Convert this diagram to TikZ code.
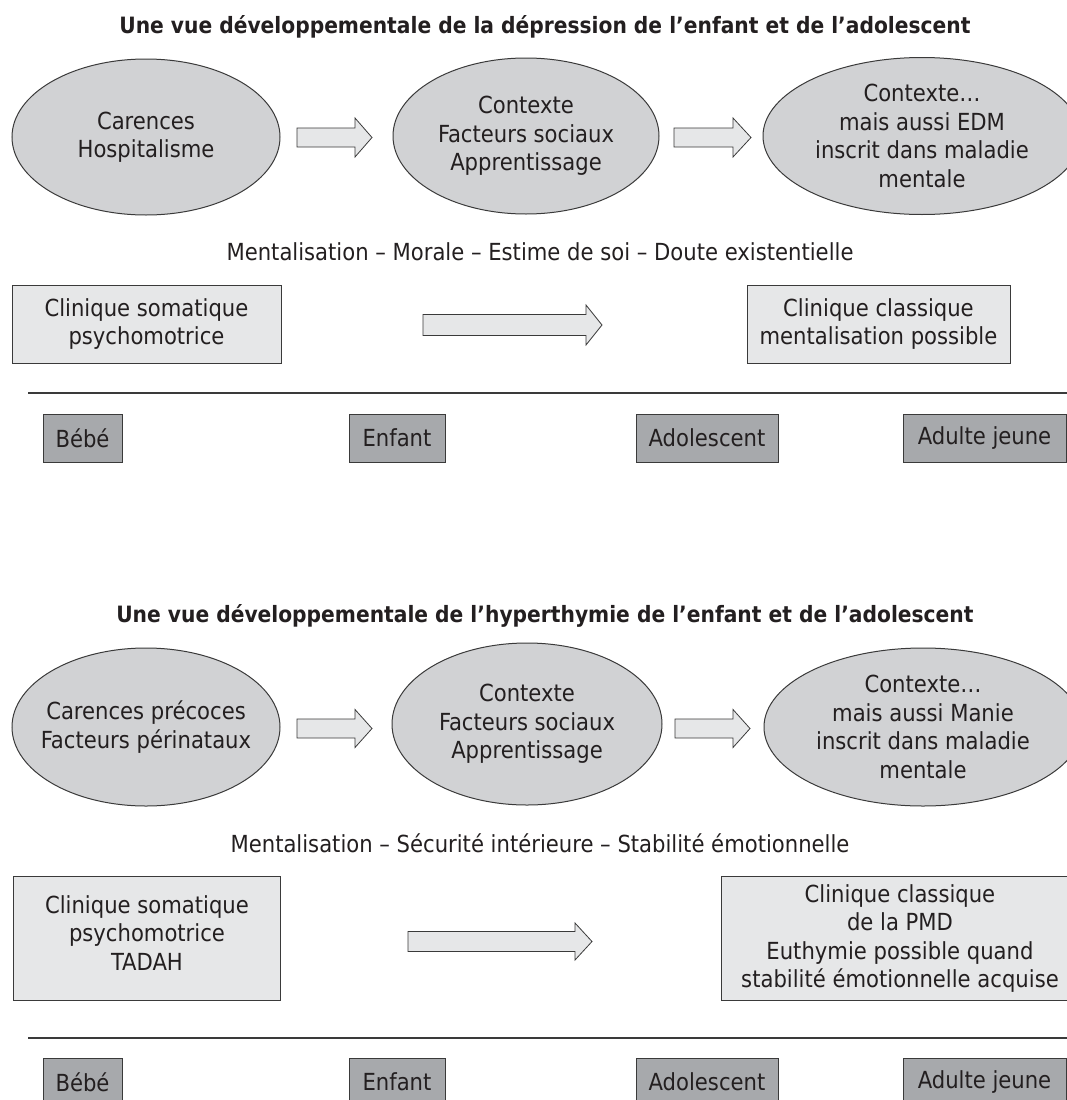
\documentclass[tikz,border=0pt]{standalone}
\usepackage{fontspec}
\setmainfont{DejaVu Sans Condensed}
\usetikzlibrary{shapes.geometric}
\definecolor{ink}{HTML}{231F20}
\definecolor{ellfill}{HTML}{D1D2D4}
\definecolor{boxfill}{HTML}{E6E7E8}
\definecolor{agefill}{HTML}{A7A9AC}
\definecolor{edge}{HTML}{3A3A3A}
\newcommand\blockarr[6]{% x1, xhead, xtip, ycenter, shaft half, head half
  \draw[barrow] (#1,#4-#5) -- (#2,#4-#5) -- (#2,#4-#6) -- (#3,#4) -- (#2,#4+#6) -- (#2,#4+#5) -- (#1,#4+#5) -- cycle;}
\begin{document}
\begin{tikzpicture}[x=1pt,y=-1pt,
  font=\fontsize{23.5}{28.5}\selectfont, text=ink,
  title/.style={font=\fontsize{22.5}{26}\selectfont\bfseries},
  ell/.style={ellipse, draw=edge, fill=ellfill, line width=1pt, inner sep=-30pt, align=center},
  cbox/.style={rectangle, draw=edge, fill=boxfill, line width=1pt, inner sep=0pt, align=center},
  agebox/.style={rectangle, draw=edge, fill=agefill, line width=1pt, inner sep=0pt, align=center},
  barrow/.style={draw=edge, fill=boxfill, line width=0.8pt, line join=miter},
  sep/.style={draw=edge, line width=1.2pt}]
\useasboundingbox (0,0) rectangle (1067,1100);
\clip (0,0) rectangle (1067,1100);

% ---------- Part 1 ----------
\node[title] (t1) at (545,27) {Une vue développementale de la dépression de l’enfant et de l’adolescent};

\node[ell, minimum width=268pt, minimum height=156pt] (a1) at (146,137) {Carences\\Hospitalisme};
\node[ell, minimum width=266pt, minimum height=156pt] (a2) at (526,136) {Contexte\\Facteurs sociaux\\Apprentissage};
\node[ell, minimum width=318pt, minimum height=157pt] (a3) at (922,136) {Contexte…\\mais aussi EDM\\inscrit dans maladie\\mentale};
\blockarr{297}{355}{372}{137.5}{9.5}{19.5}
\blockarr{674}{733}{751}{137.5}{9.5}{19.5}

\node (m1) at (540,252) {Mentalisation -- Morale -- Estime de soi -- Doute existentielle};

\node[cbox, minimum width=269pt, minimum height=78pt] (b1) at (146.5,324) {Clinique somatique\\psychomotrice};
\node[cbox, minimum width=263pt, minimum height=78pt] (b2) at (878.5,324) {Clinique classique\\mentalisation possible};
\blockarr{423}{586}{602}{325}{10.5}{20}

\coordinate (l1a) at (28,393);
\coordinate (l1b) at (1070,393);
\draw[sep] (l1a) -- (l1b);

\node[agebox, minimum width=79pt, minimum height=48pt] (g1) at (82.5,438) {Bébé};
\node[agebox, minimum width=96pt, minimum height=48pt] (g2) at (397,438) {Enfant};
\node[agebox, minimum width=142pt, minimum height=48pt] (g3) at (707,438) {Adolescent};
\node[agebox, minimum width=163pt, minimum height=48pt] (g4) at (984.5,438) {Adulte jeune};

% ---------- Part 2 ----------
\node[title] (t2) at (545,616) {Une vue développementale de l’hyperthymie de l’enfant et de l’adolescent};

\node[ell, minimum width=268pt, minimum height=158pt] (c1) at (146,727) {Carences précoces\\Facteurs périnataux};
\node[ell, minimum width=270pt, minimum height=162pt] (c2) at (527,724) {Contexte\\Facteurs sociaux\\Apprentissage};
\node[ell, minimum width=318pt, minimum height=158pt] (c3) at (923,727) {Contexte…\\mais aussi Manie\\inscrit dans maladie\\mentale};
\blockarr{297}{355}{372}{728.5}{9.5}{19}
\blockarr{675}{733}{750}{728.5}{9.5}{19}

\node (m2) at (540,843) {Mentalisation -- Sécurité intérieure -- Stabilité émotionnelle};

\node[cbox, minimum width=267pt, minimum height=124pt] (d1) at (147,938) {};
\node[align=center] (d1t) at (147,933) {Clinique somatique\\psychomotrice\\TADAH};
\node[cbox, minimum width=358pt, minimum height=124pt] (d2) at (900,938.5) {Clinique classique\\de la PMD\\Euthymie possible quand\\stabilité émotionnelle acquise};
\blockarr{408}{575}{592}{941.5}{10}{18.5}

\coordinate (l2a) at (28,1038);
\coordinate (l2b) at (1070,1038);
\draw[sep] (l2a) -- (l2b);

\node[agebox, minimum width=79pt, minimum height=48pt] (h1) at (82.5,1082) {Bébé};
\node[agebox, minimum width=96pt, minimum height=48pt] (h2) at (397,1082) {Enfant};
\node[agebox, minimum width=142pt, minimum height=48pt] (h3) at (707,1082) {Adolescent};
\node[agebox, minimum width=163pt, minimum height=48pt] (h4) at (984.5,1082) {Adulte jeune};
\end{tikzpicture}
\end{document}
